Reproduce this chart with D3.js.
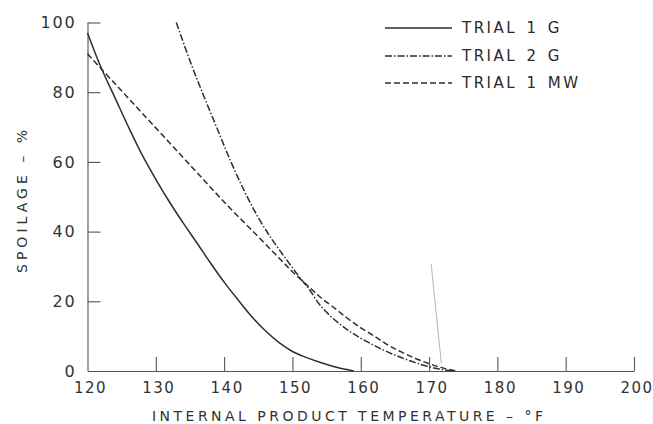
<!DOCTYPE html>
<head>
  <meta charset="utf-8">
  <title>spoilage vs temperature</title>
  <style>
  body{margin:0;background:#fff;}
  svg{display:block;}
  .ax text{font-family:"DejaVu Sans",sans-serif;fill:#333;}
  </style>
</head>
<body>
  <div id="container"></div>
  <script src="https://cdn.jsdelivr.net/npm/d3@7"></script>
  <script>
  // values: [temperature F, spoilage %]
  var trial1G = [[120,97],[122,87],[124,78.5],[126,70],[128,62],[130,55],[132,48.5],[134,42.5],
    [136,36.8],[138,31],[140,25.5],[142,20.5],[144,15.7],[146,11.6],[148,8.2],[150,5.6],[152,3.9],
    [154,2.5],[156,1.3],[158,0.4],[159,0]];
  var trial2G = [[133,100],[135,89],[137,79],[139,69.5],[141,60],[143,51.5],[145,44],[147,37.8],
    [149,32.3],[151,27],[152.5,23.3],[154,19],[156,15],[158,11.9],[160,9.4],[162,7.3],
    [164,5.4],[166,3.8],[168,2.4],[170,1.2],[172,0.4],[173.5,0]];
  var trial1MW = [[120,91],[124,82.5],[128,74],[132,65.5],[136,57],[140,48.5],[144,40.5],
    [148,32.5],[150,28.5],[152.5,24],[154,21.3],[156,18.3],[158,15.2],[160,12.4],[162,10],
    [164,7.4],[166,5.4],[168,3.6],[170,2.1],[172,0.9],[174,0]];
  // faint stray pencil line on the scan
  var strayMark = [[170.3,30.8],[171.8,2.2]];

  var seriesNames = ["TRIAL 1 G","TRIAL 2 G","TRIAL 1 MW"];
  var xTicks = [120,130,140,150,160,170,180,190,200];
  var yTicks = [0,20,40,60,80,100];
  var xTitle = "INTERNAL PRODUCT TEMPERATURE \u2013 \u00B0F";
  var yTitle = "SPOILAGE \u2013 %";

  var W = 653, H = 424;
  var svg = d3.select("#container").append("svg")
    .attr("width", W).attr("height", H);

  var xScale = d3.scaleLinear().domain([120,200]).range([87.5,634]);
  var yScale = d3.scaleLinear().domain([0,100]).range([371,22.5]);

  var ink = "#2e2e2e";

  // x axis, ticks pointing up into the plot
  var gx = svg.append("g").attr("class","ax")
    .attr("transform","translate(0,"+yScale(0)+")")
    .call(d3.axisBottom(xScale).tickValues(xTicks).tickSizeInner(-14).tickSizeOuter(0).tickPadding(11));
  gx.selectAll(".tick text").attr("font-size",15).attr("letter-spacing","1.5px").attr("dx","2.5");
  gx.select(".tick line").remove();

  var gy = svg.append("g").attr("class","ax")
    .attr("transform","translate("+xScale(120)+",0)")
    .call(d3.axisLeft(yScale).tickValues(yTicks).tickSizeInner(-13).tickSizeOuter(0).tickPadding(11));
  gy.selectAll(".tick text").attr("font-size",16).attr("letter-spacing","1.8px");
  gy.select(".tick line").remove();

  d3.selectAll(".tick line, .domain").attr("stroke","#555").attr("stroke-width",1.1);

  svg.append("text")
    .attr("x",152).attr("y",421)
    .attr("textLength",391).attr("lengthAdjust","spacing")
    .style("font-family","DejaVu Sans, sans-serif").style("font-size","14px")
    .attr("fill","#333")
    .text(xTitle);

  svg.append("text")
    .attr("transform","translate(27,273) rotate(-90)")
    .attr("textLength",143).attr("lengthAdjust","spacing")
    .style("font-family","DejaVu Sans, sans-serif").style("font-size","14px")
    .attr("fill","#333")
    .text(yTitle);

  var line = d3.line()
    .x(function(d){ return xScale(d[0]); })
    .y(function(d){ return yScale(d[1]); })
    .curve(d3.curveCatmullRom.alpha(0.5));

  var dashes = ["none","7,2,1.5,2","6,3"];
  var allSeries = [trial1G, trial2G, trial1MW];

  svg.append("path").datum(strayMark)
    .attr("d", d3.line().x(d=>xScale(d[0])).y(d=>yScale(d[1])))
    .attr("fill","none").attr("stroke","#b5b5b5").attr("stroke-width",1);

  allSeries.forEach(function(s,i){
    svg.append("path").datum(s)
      .attr("d", line)
      .attr("fill","none")
      .attr("stroke", ink)
      .attr("stroke-width",1.5)
      .attr("stroke-dasharray", dashes[i]);
  });

  // legend
  var legY = [28,56,83];
  var leg = svg.append("g");
  seriesNames.forEach(function(n,i){
    leg.append("line")
      .attr("x1",385).attr("x2",452).attr("y1",legY[i]).attr("y2",legY[i])
      .attr("stroke",ink).attr("stroke-width",1.5)
      .attr("stroke-dasharray",dashes[i]);
    leg.append("text")
      .attr("x",462).attr("y",legY[i]).attr("dy","0.36em")
      .style("font-family","DejaVu Sans, sans-serif").style("font-size","15px")
      .attr("letter-spacing","2.5px").attr("word-spacing","2px")
      .attr("fill","#2a2a2a")
      .text(n);
  });
  </script>
</body>
</html>
